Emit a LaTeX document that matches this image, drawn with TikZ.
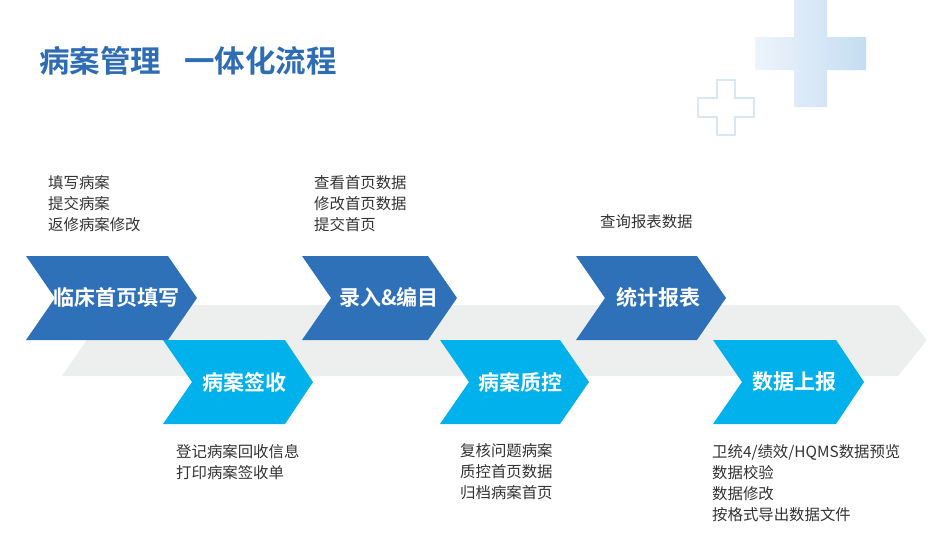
\documentclass[tikz,border=0pt]{standalone}
\usepackage{fontspec}
\setmainfont{Noto Sans CJK SC}[BoldFont={Noto Sans CJK SC Bold}]
\definecolor{titleblue}{HTML}{2E6DB4}
\definecolor{chevdark}{HTML}{2F71B8}
\definecolor{chevlight}{HTML}{00B1EC}
\definecolor{bandgray}{HTML}{EDEFEF}
\definecolor{textgray}{HTML}{333333}
\definecolor{crossleft}{HTML}{EEF4FB}
\definecolor{crossright}{HTML}{C4DDF3}
\definecolor{crossline}{HTML}{D9E7F5}
\begin{document}
\begin{tikzpicture}[x=1pt, y=-1pt]
    % Define styles
    \tikzset{
        darkstep/.style={fill=chevdark},
        lightstep/.style={fill=chevlight},
        steplabel/.style={text=white, font=\fontsize{21}{21}\selectfont\bfseries, inner sep=0pt},
        tasklist/.style={text=textgray, font=\fontsize{15.4}{21}\selectfont, align=left, anchor=west, inner sep=0pt},
    }
    \useasboundingbox (0,0) rectangle (952,547);

    % Crosses
    \shade[left color=crossleft, right color=crossright]
        (794,0) -- (827,0) -- (827,37) -- (866,37) -- (866,70) -- (827,70) -- (827,107)
        -- (794,107) -- (794,70) -- (755,70) -- (755,37) -- (794,37) -- cycle;
    \draw[crossline, line width=1.4pt, fill=white]
        (717,80) -- (735,80) -- (735,98) -- (754,98) -- (754,117) -- (735,117) -- (735,135)
        -- (717,135) -- (717,117) -- (698,117) -- (698,98) -- (717,98) -- cycle;

    % Title
    \node[text=titleblue, font=\fontsize{30.5}{30.5}\selectfont\bfseries, anchor=west, inner sep=0pt] (title) at (39,61) {病案管理\hspace{23pt}一体化流程};

    % Band
    \fill[bandgray] (111,305) -- (898,305) -- (927,340) -- (898,376) -- (62,376) -- cycle;

    % Steps
    \fill[darkstep] (26,256) -- (168,256) -- (197,298) -- (168,340) -- (26,340) -- (55,298) -- cycle;
    \fill[lightstep] (163,340) -- (285,340) -- (313,382) -- (285,424) -- (163,424) -- (192,382) -- cycle;
    \fill[darkstep] (302,256) -- (428,256) -- (457,298) -- (428,340) -- (302,340) -- (331,298) -- cycle;
    \fill[lightstep] (440,340) -- (560,340) -- (589,382) -- (560,424) -- (440,424) -- (469,382) -- cycle;
    \fill[darkstep] (576,256) -- (697,256) -- (726,298) -- (697,340) -- (576,340) -- (605,298) -- cycle;
    \fill[lightstep] (713,340) -- (836,340) -- (864,382) -- (836,424) -- (713,424) -- (742,382) -- cycle;

    \node[steplabel] (fill) at (116.5,297) {临床首页填写};
    \node[steplabel] (sign) at (244.5,382) {病案签收};
    \node[steplabel] (edit) at (389,297) {录入\&编目};
    \node[steplabel] (check) at (520.5,382) {病案质控};
    \node[steplabel] (stats) at (658.5,297) {统计报表};
    \node[steplabel] (report) at (794.5,382) {数据上报};

    % Task lists
    \node[tasklist] (fillTasks) at (48,204) {填写病案\\提交病案\\返修病案修改};
    \node[tasklist] (editTasks) at (314,204) {查看首页数据\\修改首页数据\\提交首页};
    \node[tasklist] (statsTasks) at (600,222) {查询报表数据};
    \node[tasklist] (signTasks) at (176,462) {登记病案回收信息\\打印病案签收单};
    \node[tasklist] (checkTasks) at (460,472) {复核问题病案\\质控首页数据\\归档病案首页};
    \node[tasklist] (reportTasks) at (712,483) {卫统4/绩效/HQMS数据预览\\数据校验\\数据修改\\按格式导出数据文件};
\end{tikzpicture}
\end{document}
